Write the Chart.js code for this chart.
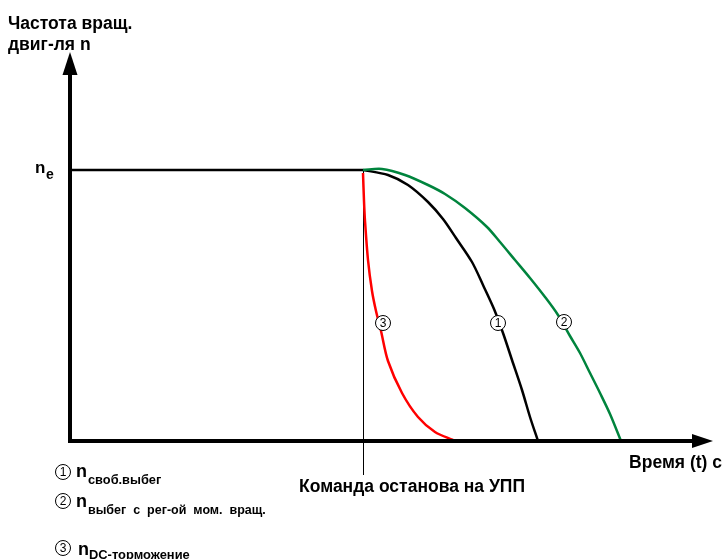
<!DOCTYPE html>
<html>
<head>
<meta charset="utf-8">
<script src="https://cdn.jsdelivr.net/npm/chart.js@4"></script>
<style>
  body { margin: 0; background: #fff; }
</style>
</head>
<body>
<canvas id="grafico" width="725" height="559"></canvas>
<script>
// значения (условные единицы: t вправо, n вверх)
const nE = 271;
const tStop = 293;

const tSvob = [293, 318, 338, 358, 373, 386, 402, 413, 424, 433, 442, 452, 460, 468];
const nSvob = [271, 266, 256, 239, 222, 203, 179, 156, 132, 108, 81, 51, 24, 0];

const tReg = [293, 312, 335, 358, 375, 395, 417, 430, 445, 460, 475, 488, 500, 510, 520, 530, 540, 551];
const nReg = [271, 272, 266, 256, 247, 233, 214, 199, 181, 163, 144, 126, 105, 88, 68, 48, 27, 0];

const tDC = [293, 294, 295, 298, 302, 306, 311, 318, 332, 348, 365, 383];
const nDC = [268, 240, 220, 181, 150, 130, 110, 80, 48, 24, 9, 1];

const tNe = [0, tStop];
const nNe = [nE, nE];

const tMax = 643;
const nMax = 389;

const FONT = '"Liberation Sans", Arial, sans-serif';

function puntos(ts, ns) {
  return ts.map((t, i) => ({ x: t, y: ns[i] }));
}

function circulo(ctx, x, y, d) {
  ctx.save();
  ctx.beginPath();
  ctx.arc(x, y, 7.5, 0, Math.PI * 2);
  ctx.fillStyle = '#fff';
  ctx.fill();
  ctx.lineWidth = 1;
  ctx.strokeStyle = '#000';
  ctx.stroke();
  ctx.fillStyle = '#000';
  ctx.font = '12px ' + FONT;
  ctx.textAlign = 'center';
  ctx.textBaseline = 'middle';
  ctx.fillText(d, x, y + 0.5);
  ctx.restore();
}

function texto(ctx, s, x, y, size, align) {
  ctx.font = 'bold ' + size + 'px ' + FONT;
  ctx.textAlign = align || 'left';
  ctx.textBaseline = 'alphabetic';
  ctx.fillStyle = '#000';
  ctx.fillText(s, x, y);
}

const ejes = {
  id: 'ejes',
  beforeDatasetsDraw(chart) {
    const ctx = chart.ctx;
    const xs = chart.scales.x, ys = chart.scales.y;
    const xp = Math.round(xs.getPixelForValue(tStop)) + 0.5;
    // линия команды останова
    ctx.save();
    ctx.strokeStyle = '#000';
    ctx.lineWidth = 1;
    ctx.beginPath();
    ctx.moveTo(xp, ys.getPixelForValue(nE));
    ctx.lineTo(xp, ys.getPixelForValue(0) + 34);
    ctx.stroke();
    ctx.restore();
  },
  afterDatasetsDraw(chart) {
    const ctx = chart.ctx;
    const xs = chart.scales.x, ys = chart.scales.y;
    const x0 = xs.getPixelForValue(0), y0 = ys.getPixelForValue(0);
    const xEnd = xs.getPixelForValue(tMax), yTop = ys.getPixelForValue(nMax);
    ctx.save();
    ctx.strokeStyle = '#000';
    ctx.fillStyle = '#000';
    ctx.lineWidth = 4;
    ctx.beginPath();
    ctx.moveTo(x0, y0 + 2);
    ctx.lineTo(x0, yTop + 20);
    ctx.moveTo(x0 - 2, y0);
    ctx.lineTo(xEnd - 18, y0);
    ctx.stroke();
    // стрелки
    ctx.beginPath();
    ctx.moveTo(x0, yTop);
    ctx.lineTo(x0 - 7.5, yTop + 23);
    ctx.lineTo(x0 + 7.5, yTop + 23);
    ctx.closePath();
    ctx.fill();
    ctx.beginPath();
    ctx.moveTo(xEnd, y0);
    ctx.lineTo(xEnd - 21, y0 - 7);
    ctx.lineTo(xEnd - 21, y0 + 7);
    ctx.closePath();
    ctx.fill();
    ctx.restore();

    // подписи осей
    texto(ctx, 'Частота вращ.', 8, 29, 17.5);
    texto(ctx, 'двиг-ля n', 8, 50, 17.5);
    const yNe = ys.getPixelForValue(nE);
    texto(ctx, 'n', 35, yNe + 3, 17);
    texto(ctx, 'e', 46, yNe + 9, 14);
    texto(ctx, 'Время (t) с', 722, y0 + 27, 17.5, 'right');
    texto(ctx, 'Команда останова на УПП', 412, y0 + 51, 17.5, 'center');

    // номера кривых
    circulo(ctx, 383, 323, '3');
    circulo(ctx, 498, 323, '1');
    circulo(ctx, 564, 322, '2');

    // легенда
    circulo(ctx, 63, 472, '1');
    texto(ctx, 'n', 76, 477, 18);
    texto(ctx, 'своб.выбег', 88, 484, 12.8);
    circulo(ctx, 63, 501, '2');
    texto(ctx, 'n', 76, 507, 18);
    texto(ctx, 'выбег  с  рег-ой  мом.  вращ.', 88, 514, 12.5);
    circulo(ctx, 63, 548, '3');
    texto(ctx, 'n', 78, 555, 18);
    texto(ctx, 'DC-торможение', 89, 559, 12.9);
  }
};

const ctx = document.getElementById('grafico').getContext('2d');
new Chart(ctx, {
  type: 'scatter',
  data: {
    datasets: [
      { data: puntos(tNe, nNe), borderColor: '#000', borderWidth: 2.5, tension: 0 },
      { data: puntos(tReg, nReg), borderColor: '#00843d', borderWidth: 2.5, tension: 0.3 },
      { data: puntos(tSvob, nSvob), borderColor: '#000', borderWidth: 2.5, tension: 0.3 },
      { data: puntos(tDC, nDC), borderColor: '#ff0000', borderWidth: 2.5, tension: 0.3 }
    ]
  },
  options: {
    responsive: false,
    animation: false,
    showLine: true,
    elements: { point: { radius: 0 } },
    layout: { padding: { left: 70, right: 12, top: 52, bottom: 118 } },
    scales: {
      x: { type: 'linear', min: 0, max: tMax, display: false },
      y: { type: 'linear', min: 0, max: nMax, display: false }
    },
    plugins: {
      legend: { display: false },
      tooltip: { enabled: false }
    }
  },
  plugins: [ejes]
});
</script>
</body>
</html>
